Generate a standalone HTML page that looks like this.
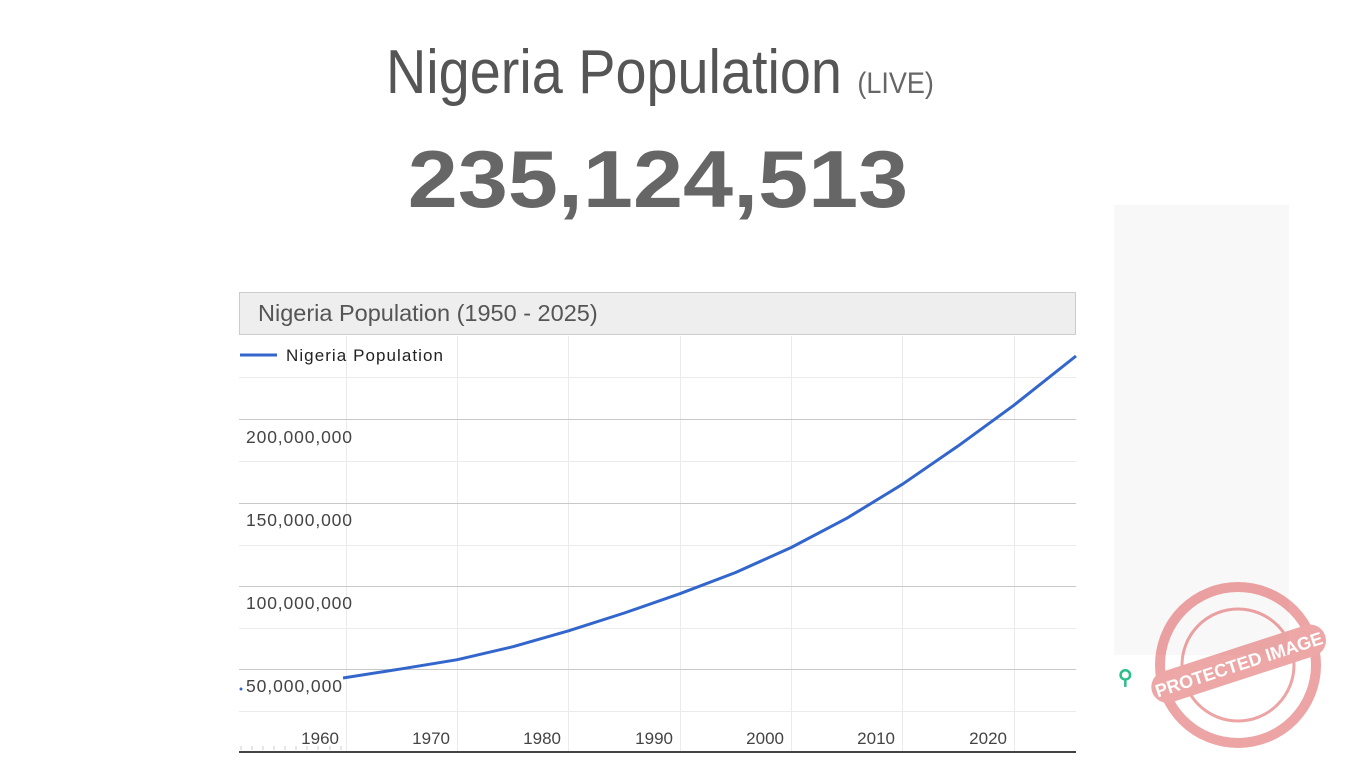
<!DOCTYPE html>
<html><head><meta charset="utf-8"><style>
html,body{margin:0;padding:0;background:#fff;width:1366px;height:768px;overflow:hidden}
svg{display:block}
</style></head><body>
<svg width="1366" height="768" xmlns="http://www.w3.org/2000/svg" font-family="Liberation Sans, Arial, sans-serif">
<rect x="1114" y="205" width="175" height="450" fill="#f8f8f8"/>
<g transform="translate(386,93) scale(0.9,1)">
<text x="0" y="0" font-size="62" fill="#555">Nigeria Population <tspan font-size="30" fill="#666">(LIVE)</tspan></text>
</g>
<g transform="translate(658,207) scale(1,0.9)">
<text x="0" y="0" font-size="90" font-weight="bold" fill="#666" text-anchor="middle">235,124,513</text>
</g>

<rect x="239.5" y="292.5" width="836" height="42" fill="#eee" stroke="#ccc"/>
<text x="258" y="321" font-size="23.5" fill="#555">Nigeria Population (1950 - 2025)</text>

<g stroke="#ebebeb" stroke-width="1">
<line x1="239" y1="377.5" x2="1076" y2="377.5"/>
<line x1="239" y1="461.5" x2="1076" y2="461.5"/>
<line x1="239" y1="545.5" x2="1076" y2="545.5"/>
<line x1="239" y1="628.5" x2="1076" y2="628.5"/>
<line x1="239" y1="711.5" x2="1076" y2="711.5"/>
<line x1="346.5" y1="336" x2="346.5" y2="752"/>
<line x1="457.5" y1="336" x2="457.5" y2="752"/>
<line x1="568.5" y1="336" x2="568.5" y2="752"/>
<line x1="680.5" y1="336" x2="680.5" y2="752"/>
<line x1="791.5" y1="336" x2="791.5" y2="752"/>
<line x1="902.5" y1="336" x2="902.5" y2="752"/>
<line x1="1014.5" y1="336" x2="1014.5" y2="752"/>
</g>
<g stroke="#c8c8c8" stroke-width="1">
<line x1="239" y1="419.5" x2="1076" y2="419.5"/>
<line x1="239" y1="503.5" x2="1076" y2="503.5"/>
<line x1="239" y1="586.5" x2="1076" y2="586.5"/>
<line x1="239" y1="669.5" x2="1076" y2="669.5"/>
</g>
<line x1="239" y1="752" x2="1076" y2="752" stroke="#444" stroke-width="2"/>
<g stroke="#ccc" stroke-width="1">
<path d="M241 750v-4M252 750v-4M263 750v-4M274 750v-4M285 750v-4M296 750v-4M307 750v-4M318 750v-4M330 750v-4M341 750v-4"/>
</g>
<g font-size="17.5" fill="#444">
<text x="246" y="443" textLength="106">200,000,000</text>
<text x="246" y="526" textLength="106">150,000,000</text>
<text x="246" y="609" textLength="106">100,000,000</text>
<text x="246" y="692" textLength="96">50,000,000</text>
</g>
<g font-size="17" fill="#444">
<text x="339" y="744" text-anchor="end">1960</text>
<text x="450" y="744" text-anchor="end">1970</text>
<text x="561" y="744" text-anchor="end">1980</text>
<text x="673" y="744" text-anchor="end">1990</text>
<text x="784" y="744" text-anchor="end">2000</text>
<text x="895" y="744" text-anchor="end">2010</text>
<text x="1007" y="744" text-anchor="end">2020</text>
</g>
<circle cx="241" cy="689" r="1.5" fill="#3366cc"/>
<line x1="240" y1="355" x2="277" y2="355" stroke="#3366cc" stroke-width="3"/>
<text x="286" y="361" font-size="17" fill="#222" textLength="157">Nigeria Population</text>
<path d="M343 678 L401.7 668.8 L457.3 659.7 L513 646.7 L568.6 630.8 L624.3 613 L679.9 593.7 L735.6 572.5 L791.2 547.5 L846.9 518.2 L902.5 484.2 L958.2 445.9 L1013.8 405.3 L1076 356" fill="none" stroke="#3366cc" stroke-width="3" stroke-linejoin="round"/>

<text x="1118" y="684" font-size="20" fill="#2bbf8a" font-weight="bold">⚲</text>
<g opacity="0.55">
<circle cx="1238" cy="665" r="78" fill="none" stroke="#e05a5a" stroke-width="10"/>
<circle cx="1238" cy="665" r="56" fill="none" stroke="#e05a5a" stroke-width="3"/>
<g transform="rotate(-18 1238 665)">
<rect x="1148" y="648" width="182" height="32" rx="16" fill="#e06060"/>
<text x="1239" y="671" font-size="18" font-weight="bold" fill="#fff" text-anchor="middle">PROTECTED IMAGE</text>
</g>
</g>
</svg>
</body></html>
